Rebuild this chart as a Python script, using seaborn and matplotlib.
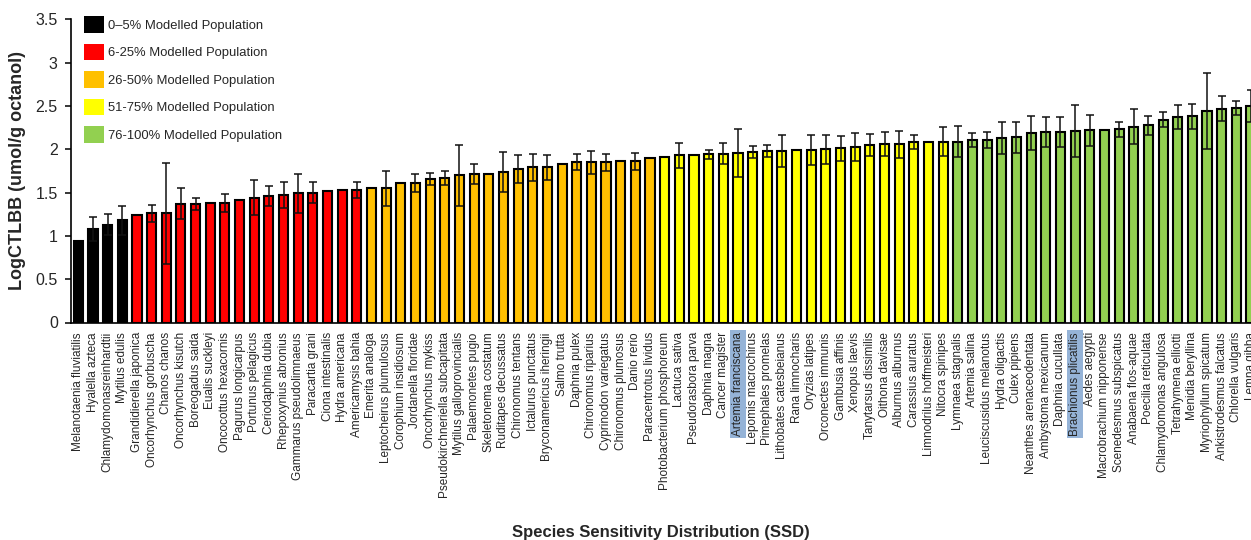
import numpy as np
import pandas as pd
import matplotlib
matplotlib.use("Agg")
import matplotlib.pyplot as plt
from matplotlib.patches import Patch
import seaborn as sns

species = [
    "Melanotaenia fluviatilis", "Hyalella azteca", "Chlamydomonasreinhardtii", "Mytilus edulis",
    "Grandidierella japonica", "Oncorhynchus gorbuscha", "Chanos chanos", "Oncorhynchus kisutch",
    "Boreogadus saida", "Eualis suckleyi", "Oncocottus hexacornis", "Pagurus longicarpus",
    "Portunus pelagicus", "Ceriodaphnia dubia", "Rhepoxynius abronius", "Gammarus pseudolimnaeus",
    "Paracartia grani", "Ciona intestinalis", "Hydra americana", "Americamysis bahia",
    "Emerita analoga", "Leptocheirus plumulosus", "Corophium insidiosum", "Jordanella floridae",
    "Oncorhynchus mykiss", "Pseudokirchneriella subcapitata", "Mytilus galloprovincialis",
    "Palaemonetes pugio", "Skeletonema costatum", "Ruditapes decussatus", "Chironomus tentans",
    "Ictalurus punctatus", "Bryconamericus iheringii", "Salmo trutta", "Daphnia pulex",
    "Chironomus riparius", "Cyprinodon variegatus", "Chironomus plumosus", "Danio rerio",
    "Paracentrotus lividus", "Photobacterium phosphoreum", "Lactuca sativa", "Pseudorasbora parva",
    "Daphnia magna", "Cancer magister", "Artemia franciscana", "Lepomis macrochirus",
    "Pimephales promelas", "Lithobates catesbeianus", "Rana limnocharis", "Oryzias latipes",
    "Orconectes immunis", "Gambusia affinis", "Xenopus laevis", "Tanytarsus dissimilis",
    "Oithona davisae", "Alburnus alburnus", "Carassius auratus", "Limnodrilus hoffmeisteri",
    "Nitocra spinipes", "Lymnaea stagnalis", "Artemia salina", "Leuciscusidus melanotus",
    "Hydra oligactis", "Culex pipiens", "Neanthes arenaceodentata", "Ambystoma mexicanum",
    "Daphnia cucullata", "Brachionus plicatilis", "Aedes aegypti", "Macrobrachium nipponense",
    "Scenedesmus subspicatus", "Anabaena flos-aquae", "Poecilia reticulata",
    "Chlamydomonas angulosa", "Tetrahymena elliotti", "Menidia beryllina", "Myriophyllum spicatum",
    "Ankistrodesmus falcatus", "Chlorella vulgaris", "Lemna gibba",
]

values = [
    0.94, 1.08, 1.13, 1.18,
    1.24, 1.26, 1.26, 1.37, 1.37, 1.38, 1.38, 1.41, 1.44, 1.46, 1.47, 1.49, 1.50, 1.52, 1.53, 1.53,
    1.55, 1.55, 1.61, 1.61, 1.66, 1.67, 1.70, 1.72, 1.72, 1.74, 1.77, 1.79, 1.79, 1.83, 1.85, 1.85,
    1.85, 1.86, 1.86, 1.90,
    1.91, 1.93, 1.93, 1.94, 1.95, 1.96, 1.97, 1.98, 1.98, 1.99, 1.99, 2.00, 2.01, 2.03, 2.05, 2.06,
    2.06, 2.08, 2.09, 2.09,
    2.09, 2.11, 2.11, 2.13, 2.14, 2.19, 2.20, 2.20, 2.21, 2.22, 2.22, 2.23, 2.26, 2.28, 2.34, 2.37,
    2.38, 2.44, 2.47, 2.48, 2.50,
]

errors = [
    0, 0.14, 0.12, 0.17,
    0, 0.10, 0.58, 0.18, 0.07, 0, 0.10, 0, 0.20, 0.12, 0.15, 0.23, 0.12, 0, 0, 0.09,
    0, 0.20, 0, 0.10, 0.07, 0.085, 0.35, 0.115, 0, 0.23, 0.16, 0.155, 0.145, 0, 0.09, 0.13,
    0.10, 0, 0.10, 0,
    0, 0.145, 0, 0.055, 0.125, 0.28, 0.07, 0.065, 0.18, 0, 0.17, 0.17, 0.145, 0.16, 0.13, 0.135,
    0.155, 0.08, 0, 0.17,
    0.18, 0.08, 0.09, 0.18, 0.18, 0.20, 0.175, 0.175, 0.30, 0.18, 0, 0.09, 0.20, 0.11, 0.085, 0.14,
    0.145, 0.44, 0.145, 0.08, 0.19,
]

group_labels = [
    "0\u20135% Modelled Population",
    "6-25% Modelled Population",
    "26-50% Modelled Population",
    "51-75% Modelled Population",
    "76-100% Modelled Population",
]
group_counts = [4, 16, 20, 20, 21]
group_colors = ["#000000", "#FF0000", "#FFC000", "#FFFF00", "#92D050"]

highlighted = ["Artemia franciscana", "Brachionus plicatilis"]
ytick_values = [0, 0.5, 1, 1.5, 2, 2.5, 3, 3.5]
ytick_labels = ["0", "0.5", "1", "1.5", "2", "2.5", "3", "3.5"]

groups = [g for g, n in zip(group_labels, group_counts) for _ in range(n)]
df = pd.DataFrame({"species": species, "value": values, "err": errors, "group": groups})

sns.set_style("white")
plt.rcParams["font.family"] = ["Liberation Sans", "DejaVu Sans"]

W, H = 1251, 540
fig = plt.figure(figsize=(W / 100, H / 100), dpi=100)
ax_left, ax_bottom_px, ax_top_px = 71, 322.5, 19.4
ax = fig.add_axes([ax_left / W, (H - ax_bottom_px) / H, (W - ax_left) / W,
                   (ax_bottom_px - ax_top_px) / H])

sns.barplot(data=df, x="species", y="value", hue="group", order=species,
            hue_order=group_labels, palette=dict(zip(group_labels, group_colors)),
            saturation=1, dodge=False, width=0.62, edgecolor="black", linewidth=1.5,
            legend=False, ax=ax, zorder=2)

xpos = np.arange(len(species))
err_arr = np.array(errors)
mask = err_arr > 0
ax.errorbar(xpos[mask], np.array(values)[mask], yerr=err_arr[mask], fmt="none",
            ecolor="#111111", elinewidth=1.1, capsize=2.6, capthick=1.1, zorder=3)

ax.set_xlim(-0.5, len(species) - 1)
ax.set_ylim(0, 3.5)
ax.set_yticks(ytick_values)
ax.set_yticklabels(ytick_labels)

for s in ["top", "right"]:
    ax.spines[s].set_visible(False)
for s in ["left", "bottom"]:
    ax.spines[s].set_color("black")
    ax.spines[s].set_linewidth(1.2)

ax.tick_params(axis="y", direction="out", length=4.5, width=1.1, color="black",
               labelsize=11.5, pad=5, left=True)
ax.tick_params(axis="x", length=0, pad=7, labelsize=8.5)
for lab in ax.get_xticklabels():
    lab.set_rotation(90)
    if lab.get_text() in highlighted:
        lab.set_bbox(dict(facecolor="#95B3D7", edgecolor="none", pad=1.5))

ax.set_xlabel("Species Sensitivity Distribution (SSD)", fontsize=12, fontweight="bold")
ax.xaxis.set_label_coords(0.5, (ax_bottom_px - 532) / (ax_bottom_px - ax_top_px))
ax.xaxis.label.set_va("center")
ax.set_ylabel("LogCTLBB (umol/g octanol)", fontsize=13, fontweight="bold")
ax.yaxis.set_label_coords((18 - ax_left) / (W - ax_left), 0.5)
ax.yaxis.label.set_va("center")

handles = [Patch(facecolor=c, edgecolor="none", label=l)
           for c, l in zip(group_colors, group_labels)]
ax.legend(handles=handles, loc="upper left",
          bbox_to_anchor=(13 / (W - ax_left), (ax_bottom_px - 16.5) / (ax_bottom_px - ax_top_px)),
          frameon=False, fontsize=9.4, handlelength=1.55, handleheight=1.55,
          handletextpad=0.32, labelspacing=0.85, borderpad=0, borderaxespad=0)

fig.savefig("out.png", dpi=100)
